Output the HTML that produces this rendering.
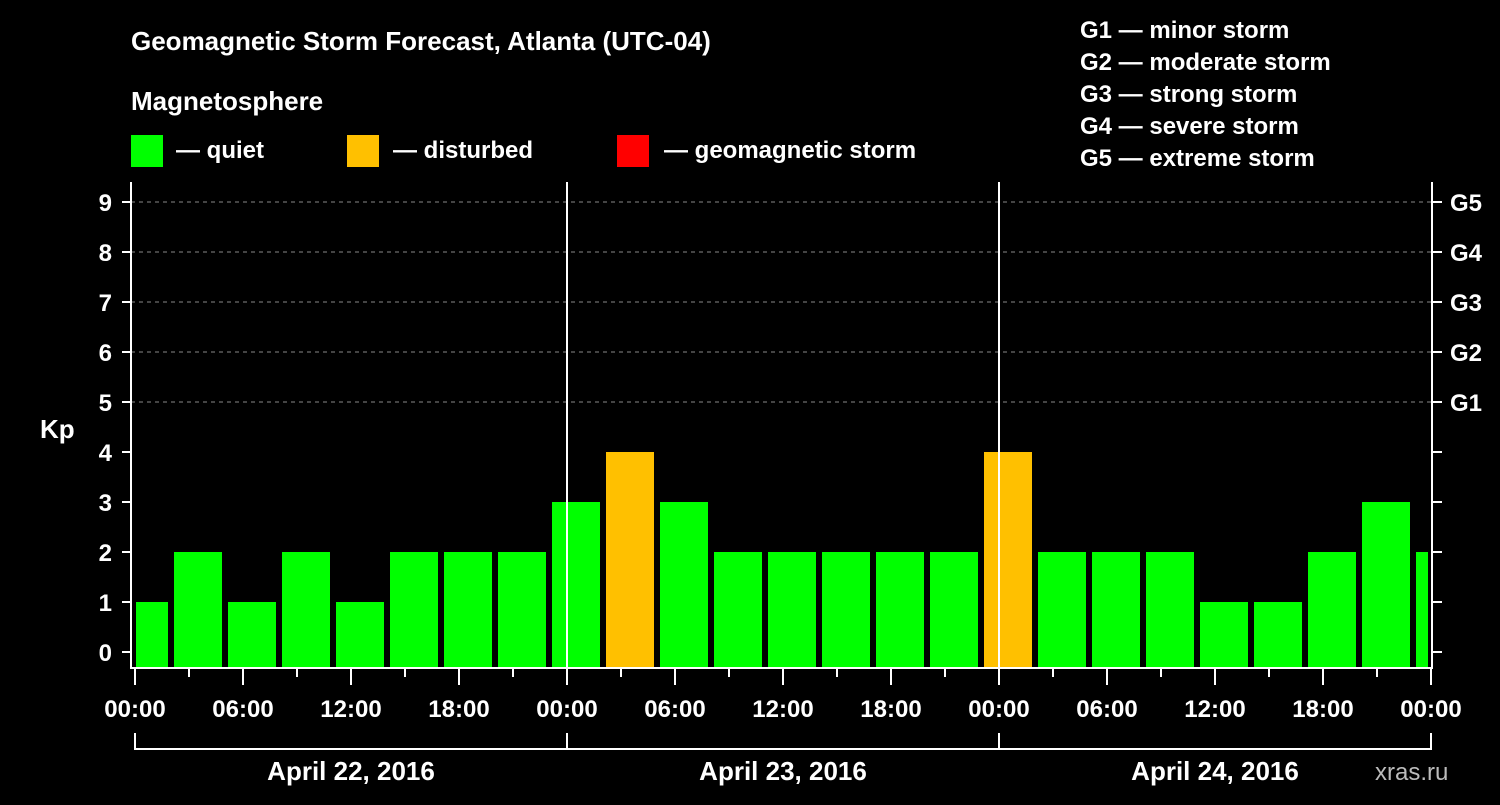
<!DOCTYPE html>
<html><head><meta charset="utf-8"><style>
body{margin:0;background:#000;}
svg text{font-family:"Liberation Sans",sans-serif;font-weight:bold;fill:#fff;}
</style></head><body>
<svg width="1500" height="800" viewBox="0 0 1500 800">
<rect width="1500" height="800" fill="#000"/>
<text x="131" y="50" font-size="26">Geomagnetic Storm Forecast, Atlanta (UTC-04)</text>
<text x="131" y="110" font-size="26">Magnetosphere</text>
<g><rect x="131" y="135" width="32" height="32" fill="#00ff00"/><text x="176" y="158" font-size="24">— quiet</text></g>
<g><rect x="347" y="135" width="32" height="32" fill="#ffc000"/><text x="393" y="158" font-size="24">— disturbed</text></g>
<g><rect x="617" y="135" width="32" height="32" fill="#ff0000"/><text x="664" y="158" font-size="24">— geomagnetic storm</text></g>
<g font-size="24">
<text x="1080" y="38">G1 — minor storm</text>
<text x="1080" y="70">G2 — moderate storm</text>
<text x="1080" y="102">G3 — strong storm</text>
<text x="1080" y="134">G4 — severe storm</text>
<text x="1080" y="166">G5 — extreme storm</text>
</g>
<text x="40" y="438" font-size="26">Kp</text>
<text x="1375" y="780" font-size="24" fill="#bbb" style="fill:#bbb;font-weight:normal">xras.ru</text>
<g id="grid"></g>
<g id="bars"></g>
<g id="axes"></g>
</svg>
<script>
const kpValues=[1,2,1,2,1,2,2,2,3,4,3,2,2,2,2,2,4,2,2,2,1,1,2,3,2];
const slotStartHours=[-1,2,5,8,11,14,17,20,23,26,29,32,35,38,41,44,47,50,53,56,59,62,65,68,71];
const xTickLabels=["00:00","06:00","12:00","18:00","00:00","06:00","12:00","18:00","00:00","06:00","12:00","18:00","00:00"];
const dayLabels=["April 22, 2016","April 23, 2016","April 24, 2016"];
const gLabels=["G1","G2","G3","G4","G5"];
const NS="http://www.w3.org/2000/svg";
const X0=135,PXH=18,PL=131,PR=1432,PT=182,PB=668;
const xs=h=>X0+h*PXH;
const ys=v=>652-v*50;
function mk(tag,at,parent){const e=document.createElementNS(NS,tag);for(const k in at)e.setAttribute(k,at[k]);document.getElementById(parent).appendChild(e);return e;}
// grid
for(let v=5;v<=9;v++){const l=mk('line',{x1:PL,x2:PR,y1:ys(v),y2:ys(v),stroke:'#888','stroke-dasharray':'4 4','stroke-width':1},'grid');

}
// bars
kpValues.forEach((v,i)=>{let x1=xs(slotStartHours[i])+3,x2=xs(slotStartHours[i]+3)-3;
x1=Math.max(x1,PL+5);x2=Math.min(x2,PR-4);
const r=mk('rect',{x:x1,y:ys(v),width:x2-x1,height:PB-ys(v),fill:v>=5?'#ff0000':(v>=4?'#ffc000':'#00ff00')},'bars');

});
// axes
const A={stroke:'#fff','stroke-width':2};
function ln(x1,y1,x2,y2,name){const l=mk('line',Object.assign({x1,y1,x2,y2},A),'axes');

}
ln(PL,PT,PL,PB+1,'y-axis-left');ln(PR,PT,PR,PB+1,'y-axis-right');ln(PL,PB,PR,PB,'x-axis');
ln(xs(24),PT,xs(24),PB,'day-divider');ln(xs(48),PT,xs(48),PB,'day-divider');
for(let v=0;v<=9;v++){ln(122,ys(v),PL,ys(v),'y-tick');ln(PR,ys(v),1442,ys(v),'y-tick-right');
const t=mk('text',{x:112,y:ys(v)+9,'font-size':24,'text-anchor':'end'},'axes');t.textContent=v;

}
gLabels.forEach((g,i)=>{const t=mk('text',{x:1450,y:ys(5+i)+9,'font-size':24},'axes');t.textContent=g;

});
for(let h=0;h<=72;h+=3){ln(xs(h),PB,xs(h),h%6==0?PB+17:PB+9,'x-tick');}
xTickLabels.forEach((s,i)=>{const t=mk('text',{x:xs(i*6),y:717,'font-size':24,'text-anchor':'middle'},'axes');t.textContent=s;

});
ln(xs(0),749,xs(72),749,'day-bracket');
for(let d=0;d<=3;d++)ln(xs(d*24),733,xs(d*24),750,'day-bracket-tick');
dayLabels.forEach((s,i)=>{const t=mk('text',{x:xs(i*24+12),y:780,'font-size':26,'text-anchor':'middle'},'axes');t.textContent=s;

});
</script>
</body></html>
